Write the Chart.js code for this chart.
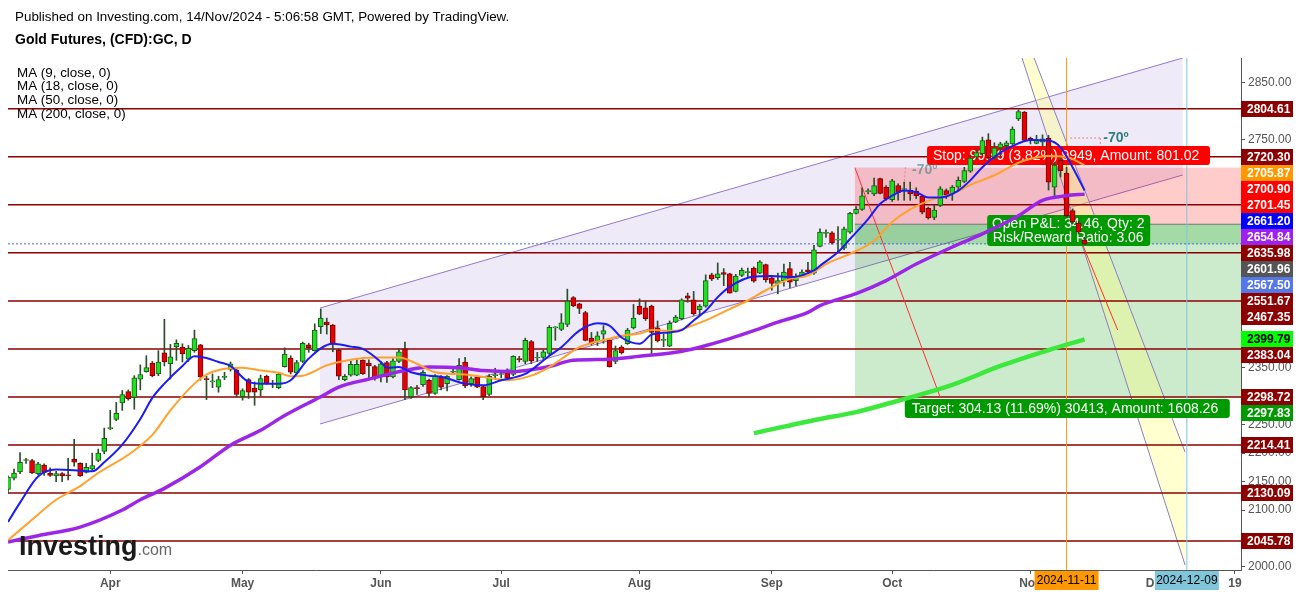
<!DOCTYPE html>
<html>
<head>
<meta charset="utf-8">
<script src="https://cdn.jsdelivr.net/npm/chart.js@4.4.1/dist/chart.umd.min.js"></script>
<style>
  html, body { margin: 0; padding: 0; background: #fff; }
  #wrap { position: relative; width: 1299px; height: 594px; }
</style>
</head>
<body>
<div id="wrap"><canvas id="c" width="1299" height="594"></canvas></div>
<script>
const FONT = '"Liberation Sans", Arial, sans-serif';

// trading days shown on the axis (weekdays, minus the two closed sessions)
const holidays = ['2024-03-29', '2024-09-02'];
const dates = [];
for (let d = new Date(Date.UTC(2024, 2, 6)); d <= new Date(Date.UTC(2024, 11, 20)); d.setUTCDate(d.getUTCDate() + 1)) {
  const s = d.toISOString().slice(0, 10);
  if (d.getUTCDay() % 6 !== 0 && !holidays.includes(s)) dates.push(s);
}

const xTickDates = ['2024-04-01', '2024-05-01', '2024-06-03', '2024-07-01', '2024-08-01',
                    '2024-09-03', '2024-10-01', '2024-11-01', '2024-12-02', '2024-12-19'];
const xTickText  = ['Apr', 'May', 'Jun', 'Jul', 'Aug', 'Sep', 'Oct', 'Nov', 'Dec', '19'];

const opens = [
  2136,2156,2167,2187,2187,2164,2179,2165,2160,2164, 2162,2189,2182,2166,2172,2187,2203,2243,2259,2288,
  2308,2298,2330,2343,2358,2339,2376,2357,2387,2386, 2365,2380,2390,2331,2325,2316,2333,2347,2346,2299,
  2329,2314,2311,2335,2321,2315,2352,2367,2341,2361, 2390,2380,2422,2430,2425,2381,2329,2337,2337,2363,
  2358,2352,2334,2359,2334,2361,2383,2299,2315,2320, 2328,2305,2334,2322,2342,2329,2360,2322,2334,2317,
  2303,2336,2338,2341,2338,2366,2361,2396,2367,2368, 2375,2420,2417,2426,2473,2462,2447,2402,2396,2409,
  2398,2361,2386,2392,2420,2458,2455,2458,2420,2398, 2388,2430,2436,2476,2469,2452,2458,2513,2508,2517,
  2515,2484,2512,2517,2525,2516,2531,2508,2498,2503, 2524,2503,2511,2522,2516,2563,2586,2587,2574,2560,
  2588,2621,2628,2659,2655,2682,2667,2645,2670,2663, 2662,2660,2651,2630,2614,2635,2661,2655,2667,2677,
  2695,2720,2726,2750,2719,2736,2740,2743,2787,2799, 2753,2744,2746,2753,2667,2714,2692,2626,2604,2574
];
const highs = [
  2160,2172,2201,2191,2189,2184,2181,2174,2168,2166, 2191,2224,2183,2182,2200,2207,2244,2275,2289,2310,
  2311,2336,2355,2371,2361,2380,2435,2391,2399,2392, 2389,2416,2391,2335,2339,2335,2342,2360,2348,2313,
  2331,2325,2337,2337,2328,2342,2385,2371,2363,2395, 2393,2427,2453,2437,2426,2383,2338,2361,2364,2364,
  2364,2354,2360,2361,2366,2383,2395,2317,2319,2345, 2330,2338,2336,2336,2350,2366,2368,2334,2336,2319,
  2338,2349,2345,2348,2371,2370,2402,2398,2377,2381, 2424,2422,2445,2488,2475,2463,2449,2412,2413,2424,
  2399,2388,2389,2419,2461,2471,2467,2460,2432,2409, 2432,2442,2471,2481,2484,2461,2513,2516,2534,2524,
  2516,2514,2525,2525,2527,2538,2532,2510,2516,2532, 2535,2515,2522,2535,2565,2594,2592,2589,2598,2597,
  2623,2633,2666,2664,2683,2683,2670,2681,2673,2676, 2676,2666,2652,2632,2636,2668,2664,2670,2685,2702,
  2723,2735,2755,2761,2745,2746,2748,2773,2803,2800, 2755,2758,2759,2758,2711,2720,2702,2629,2608,2579
];
const lows = [
  2130,2153,2164,2182,2164,2162,2161,2159,2150,2150, 2153,2177,2159,2165,2170,2185,2199,2241,2257,2275,
  2293,2277,2311,2342,2334,2336,2353,2330,2363,2360, 2361,2377,2328,2294,2315,2307,2329,2344,2299,2293,
  2296,2284,2300,2321,2315,2313,2351,2339,2339,2359, 2377,2379,2410,2409,2378,2329,2327,2335,2336,2338,
  2332,2328,2325,2324,2332,2359,2294,2296,2303,2317, 2299,2303,2311,2309,2338,2328,2315,2317,2315,2294,
  2301,2329,2332,2330,2336,2360,2357,2357,2361,2366, 2373,2398,2415,2422,2457,2445,2397,2390,2389,2393,
  2351,2357,2374,2391,2418,2443,2433,2374,2395,2387, 2387,2429,2434,2465,2442,2442,2456,2503,2505,2494,
  2481,2483,2510,2510,2500,2515,2500,2486,2480,2493, 2490,2494,2509,2515,2514,2562,2579,2567,2553,2557,
  2586,2620,2626,2655,2652,2655,2644,2642,2644,2644, 2644,2647,2620,2611,2610,2633,2647,2644,2662,2675,
  2693,2716,2722,2717,2715,2720,2735,2742,2784,2748, 2743,2743,2740,2662,2651,2685,2613,2603,2585,2566
];
const closes = [
  2158,2165,2184,2188,2165,2181,2166,2161,2164,2160, 2160,2184,2160,2175,2178,2200,2226,2245,2270,2303,
  2295,2332,2338,2350,2336,2360,2360,2369,2393,2374, 2384,2401,2334,2329,2326,2329,2334,2357,2303,2310,
  2307,2307,2331,2323,2322,2339,2374,2342,2359,2393, 2385,2416,2437,2425,2392,2335,2335,2356,2356,2339,
  2353,2332,2357,2334,2362,2378,2311,2315,2313,2342, 2305,2336,2316,2335,2342,2354,2318,2331,2316,2299,
  2335,2338,2338,2332,2370,2364,2398,2362,2367,2378, 2421,2421,2429,2467,2459,2454,2398,2392,2406,2415,
  2352,2380,2376,2416,2437,2444,2436,2412,2397,2399, 2428,2439,2469,2472,2445,2458,2503,2506,2515,2514,
  2481,2511,2521,2518,2502,2536,2504,2498,2503,2518, 2500,2509,2518,2518,2557,2588,2587,2569,2575,2594,
  2621,2628,2652,2661,2670,2656,2647,2678,2658,2664, 2655,2652,2623,2613,2627,2664,2654,2667,2679,2696,
  2718,2728,2749,2719,2736,2743,2745,2769,2800,2749, 2749,2750,2752,2676,2706,2696,2617,2606,2588,2567.5
];

// moving averages: [bar index, value]
const ma9 = [[0,2079],[2,2113],[5,2159],[8,2171],[11,2170],[14,2168],[16,2184],[19,2215],[22,2260],[24,2297],
  [26,2322],[29,2353],[31,2370],[33,2367],[35,2360],[37,2353],[39,2333],[40,2325],[42,2322],[45,2322],
  [47,2328],[50,2366],[54,2392],[57,2387],[59,2383],[62,2360],[63,2350],[65,2351],[67,2342],[70,2336],
  [72,2334],[76,2322],[79,2319],[82,2328],[86,2339],[88,2354],[90,2371],[92,2386],[95,2415],[98,2428],
  [100,2424],[102,2403],[105,2392],[107,2408],[110,2412],[112,2416],[114,2433],[116,2450],[118,2474],[120,2492],
  [124,2510],[127,2511],[130,2509],[134,2521],[135,2529],[138,2553],[140,2576],[143,2611],[145,2638],[147,2652],
  [149,2661],[151,2658],[153,2649],[155,2649],[158,2661],[160,2679],[162,2702],[165,2728],[168,2744],[170,2750],
  [173,2749],[175,2737],[177,2702],[179,2661.2]];
const ma18 = [[0,2047],[4,2083],[8,2118],[12,2142],[15,2165],[20,2197],[24,2232],[27,2275],[31,2322],[33,2338],
  [36,2348],[39,2350],[42,2345],[45,2341],[47,2335],[49,2336],[53,2354],[57,2364],[61,2368],[65,2368],
  [68,2357],[71,2342],[76,2338],[80,2332],[83,2328],[87,2336],[90,2351],[92,2365],[95,2386],[100,2401],
  [102,2406],[105,2410],[107,2416],[111,2415],[113,2421],[116,2433],[120,2453],[123,2468],[126,2486],[130,2506],
  [133,2512],[136,2532],[140,2550],[144,2573],[147,2606],[150,2628],[154,2647],[157,2655],[160,2671],[164,2688],
  [167,2705],[169,2714],[173,2722],[176,2720],[179,2705.87]];
const ma50 = [[0,2044],[5,2055],[12,2070],[19,2100],[22,2118],[26,2138],[32,2176],[37,2214],[42,2240],[46,2266],
  [52,2299],[55,2316],[60,2330],[66,2345],[70,2351],[75,2350],[79,2345],[84,2343],[88,2348],[90,2352],
  [94,2363],[100,2365],[105,2370],[111,2377],[115,2386],[120,2401],[124,2415],[128,2430],[133,2447],[135,2459],
  [141,2480],[146,2503],[151,2532],[157,2562],[162,2585],[168,2617],[172,2644],[176,2652],[179,2654.84]];
const ma200 = [[124,2235],[135,2260],[141,2272],[148,2292],[157,2320],[165,2353],[173,2381],[179,2399.79]];

// horizontal levels and position tool
const levels = [2804.61, 2720.30, 2635.98, 2551.67, 2467.35, 2383.04, 2298.72, 2214.41, 2130.09, 2045.78];
const stopPrice = 2701.45, entryPrice = 2601.96, targetPrice = 2297.83, lastPrice = 2567.50;

// price labels on the right axis, top to bottom
const axisLabels = [2804.61, 2720.30, 2705.87, 2700.90, 2701.45, 2661.20, 2654.84, 2635.98, 2601.96, 2567.50,
                    2551.67, 2467.35, 2399.79, 2383.04, 2298.72, 2297.83, 2214.41, 2130.09, 2045.78];
const axisLabelBg = ['#8b0000','#8b0000','#ff9800','#ff0000','#ff0000','#0000ff','#a020f0','#8b0000','#555555','#5578e6',
                     '#8b0000','#8b0000','#00ff00','#8b0000','#8b0000','#009900','#8b0000','#8b0000','#8b0000'];

const up = '#1fe01f', upEdge = '#1e5a1e', down = '#e60000', downEdge = '#7a0000', wick = '#2a4d2a';

const bodies = opens.map((o, i) => ({ x: i, y: [Math.min(o, closes[i]), Math.max(o, closes[i])] }));
const wicks = opens.map((o, i) => ({ x: i, y: [lows[i], highs[i]] }));
const isUp = opens.map((o, i) => closes[i] >= o);
const pts = arr => arr.map(([i, v]) => ({ x: i, y: v }));

const lineDs = (data, color, width, order) => ({
  type: 'line', data: pts(data), borderColor: color, borderWidth: width, pointRadius: 0,
  cubicInterpolationMode: 'monotone', order
});

const idx = d => dates.indexOf(d);

const drawings = {
  id: 'drawings',
  beforeDatasetsDraw(chart) {
    const { ctx, chartArea: a, scales: { x, y } } = chart;
    const X = i => x.getPixelForValue(i), Y = v => y.getPixelForValue(v);
    const seg = (i1, v1, i2, v2, color, w, dash) => {
      ctx.beginPath(); ctx.strokeStyle = color; ctx.lineWidth = w; ctx.setLineDash(dash || []);
      ctx.moveTo(X(i1), Y(v1)); ctx.lineTo(X(i2), Y(v2)); ctx.stroke(); ctx.setLineDash([]);
    };
    const poly = (p, fill) => {
      ctx.beginPath(); p.forEach(([i, v], k) => k ? ctx.lineTo(X(i), Y(v)) : ctx.moveTo(X(i), Y(v)));
      ctx.closePath(); ctx.fillStyle = fill; ctx.fill();
    };
    ctx.save();
    ctx.beginPath(); ctx.rect(a.left, a.top, a.right - a.left, a.bottom - a.top); ctx.clip();

    // rising channel
    poly([[51.87, 2454.8], [195.3, 2893.9], [195.3, 2688.4], [51.87, 2251.1]], 'rgba(149,117,205,0.15)');
    seg(51.87, 2454.8, 195.3, 2893.9, '#9575cd', 1);
    seg(51.87, 2251.1, 195.3, 2688.4, '#9575cd', 1);

    // short position zones
    const z0 = 140.8, z1 = dates.length - 1;
    ctx.fillStyle = 'rgba(255,0,0,0.2)';
    ctx.fillRect(X(z0), Y(stopPrice), X(z1) - X(z0), Y(entryPrice) - Y(stopPrice));
    ctx.fillStyle = 'rgba(0,153,0,0.2)';
    ctx.fillRect(X(z0), Y(entryPrice), X(z1) - X(z0), Y(targetPrice) - Y(entryPrice));
    ctx.fillRect(X(z0), Y(entryPrice), X(z1) - X(z0), Y(lastPrice) - Y(entryPrice));
    seg(z0, entryPrice, z1, entryPrice, '#777', 1);

    // falling band
    poly([[168.6, 2893.9], [170.6, 2893.9], [195.7, 2201.9], [195.7, 2003.5]], 'rgba(255,255,120,0.35)');
    seg(170.6, 2893.9, 195.7, 2201.9, '#8e7cc3', 1);
    seg(168.6, 2893.9, 195.7, 2003.5, '#8e7cc3', 1);

    levels.forEach(v => seg(0, v, z1, v, '#8b0000', 1.5));
    seg(0, lastPrice, z1, lastPrice, '#4169e1', 1, [2, 2]);

    const iNov = idx('2024-11-11'), iDec = idx('2024-12-09');
    seg(iNov, 2893.9, iNov, 1994.7, '#ff9800', 1);
    seg(iDec, 2893.9, iDec, 1994.7, '#7fc6db', 1);

    seg(140.8, stopPrice, 155.0, targetPrice, '#ff3030', 1);
    seg(175.4, 2649.8, 184.5, 2416.2, '#ff3030', 1);
    seg(176.6, 2753.4, 181.6, 2753.4, '#f08080', 1, [2, 2]);
    seg(181.6, 2753.4, 181.6, 2736, '#f08080', 1, [2, 2]);
    seg(149.2, 2702, 149.0, 2672, '#f08080', 1, [2, 2]);

    // labels of the position tool
    ctx.font = '14px ' + FONT; ctx.textBaseline = 'middle';
    const box = (i, v, w, h, bg) => {
      ctx.fillStyle = bg; ctx.beginPath(); ctx.roundRect(X(i), Y(v), w, h, 3); ctx.fill();
    };
    box(152.8, 2739.3, 283, 19, '#ff0000');
    ctx.fillStyle = '#fff'; ctx.textAlign = 'left';
    ctx.fillText('Stop: 99.49 (3.82%) 9949, Amount: 801.02', X(152.8) + 6, Y(2739.3) + 10);
    box(162.8, 2618.2, 163, 31, '#009900');
    ctx.fillStyle = '#fff'; ctx.textAlign = 'center';
    ctx.fillText('Open P&L: 34.46, Qty: 2', X(162.8) + 81, Y(2618.2) + 9);
    ctx.fillText('Risk/Reward Ratio: 3.06', X(162.8) + 81, Y(2618.2) + 23);
    box(149.1, 2295, 325, 19, '#009900');
    ctx.fillStyle = '#fff'; ctx.textAlign = 'left';
    ctx.fillText('Target: 304.13 (11.69%) 30413, Amount: 1608.26', X(149.1) + 7, Y(2295) + 10);

    ctx.font = 'bold 14px ' + FONT;
    ctx.fillStyle = 'rgba(70,120,120,0.6)'; ctx.fillText('-70º', X(150.3), Y(2697.2));
    ctx.fillStyle = '#2e7d7d'; ctx.fillText('-70º', X(182.1), Y(2753.4));
    ctx.restore();
  },
  afterDraw(chart) {
    const { ctx, chartArea: a, scales: { x, y } } = chart;
    const X = i => x.getPixelForValue(i), Y = v => y.getPixelForValue(v);
    ctx.save();
    ctx.textBaseline = 'middle'; ctx.textAlign = 'left';

    // stacked price labels
    ctx.font = 'bold 12px ' + FONT;
    let prev = -Infinity;
    axisLabels.forEach((v, k) => {
      const py = Math.max(Y(v), prev + 16);
      prev = py;
      ctx.fillStyle = axisLabelBg[k];
      ctx.fillRect(a.right, Math.round(py - 8), 52, 16);
      ctx.fillStyle = axisLabelBg[k] === '#00ff00' ? '#000' : '#fff';
      ctx.fillText(v.toFixed(2), a.right + 6, py + 0.5);
    });

    // date markers on the time axis
    ctx.font = '12px ' + FONT; ctx.textAlign = 'center';
    [['2024-11-11', '#ff9800'], ['2024-12-09', '#7fc6db']].forEach(([d, bg]) => {
      const px = X(idx(d));
      ctx.fillStyle = bg; ctx.fillRect(px - 32, a.bottom + 1, 64, 19);
      ctx.fillStyle = '#000'; ctx.fillText(d, px, a.bottom + 11);
    });

    // header and legend
    ctx.textAlign = 'left'; ctx.fillStyle = '#000';
    ctx.font = '13.4px ' + FONT;
    ctx.fillText('Published on Investing.com, 14/Nov/2024 - 5:06:58 GMT, Powered by TradingView.', 15, 17);
    ctx.font = 'bold 14px ' + FONT;
    ctx.fillText('Gold Futures, (CFD):GC, D', 15, 40);
    ctx.font = '13.4px ' + FONT;
    ['MA (9, close, 0)', 'MA (18, close, 0)', 'MA (50, close, 0)', 'MA (200, close, 0)']
      .forEach((t, k) => ctx.fillText(t, 17, 73 + k * 13.7));

    // logo
    ctx.font = 'bold 27px ' + FONT; ctx.fillStyle = '#1a1a1a';
    ctx.fillText('Investing', 19, 548);
    const w = ctx.measureText('Investing').width;
    ctx.font = '16px ' + FONT; ctx.fillStyle = '#666';
    ctx.fillText('.com', 19 + w, 551);
    ctx.restore();
  }
};

new Chart(document.getElementById('c'), {
  type: 'bar',
  data: {
    datasets: [
      lineDs(ma9, '#1c1cf2', 2, 1),
      lineDs(ma18, '#ffa12b', 2, 2),
      lineDs(ma50, '#9b26e8', 3.5, 3),
      lineDs(ma200, '#3de83d', 4.5, 4),
      {
        data: bodies, grouped: false, barThickness: 5, minBarLength: 1, borderWidth: 1, borderSkipped: false,
        backgroundColor: isUp.map(u => u ? up : down), borderColor: isUp.map(u => u ? upEdge : downEdge), order: 5
      },
      { data: wicks, grouped: false, barThickness: 1, backgroundColor: wick, order: 6 }
    ]
  },
  options: {
    responsive: false,
    animation: false,
    layout: { padding: { left: 8, top: 58, right: 0, bottom: 0 } },
    plugins: { legend: { display: false }, tooltip: { enabled: false } },
    scales: {
      x: {
        type: 'linear', min: 0, max: dates.length - 1, offset: false,
        grid: { drawOnChartArea: false, offset: false, tickLength: 4, color: '#555' },
        border: { color: '#555' },
        afterBuildTicks: s => { s.ticks = xTickDates.map(d => ({ value: idx(d) })); },
        afterFit: s => { s.height = 24; },
        ticks: {
          autoSkip: false, maxRotation: 0, padding: 2, color: '#555',
          font: { family: FONT, size: 12, weight: 'bold' },
          callback: v => xTickText[xTickDates.findIndex(d => idx(d) === v)]
        }
      },
      y: {
        type: 'linear', position: 'right', min: 1994.7, max: 2893.9,
        grid: { drawOnChartArea: false, tickLength: 4, color: '#555' },
        border: { color: '#555' },
        afterBuildTicks: s => { s.ticks = []; for (let v = 2000; v <= 2850; v += 50) s.ticks.push({ value: v }); },
        afterFit: s => { s.width = 58; },
        ticks: { padding: 3, color: '#555', font: { family: FONT, size: 12 }, callback: v => v.toFixed(2) }
      }
    }
  },
  plugins: [drawings]
});
</script>
</body>
</html>
